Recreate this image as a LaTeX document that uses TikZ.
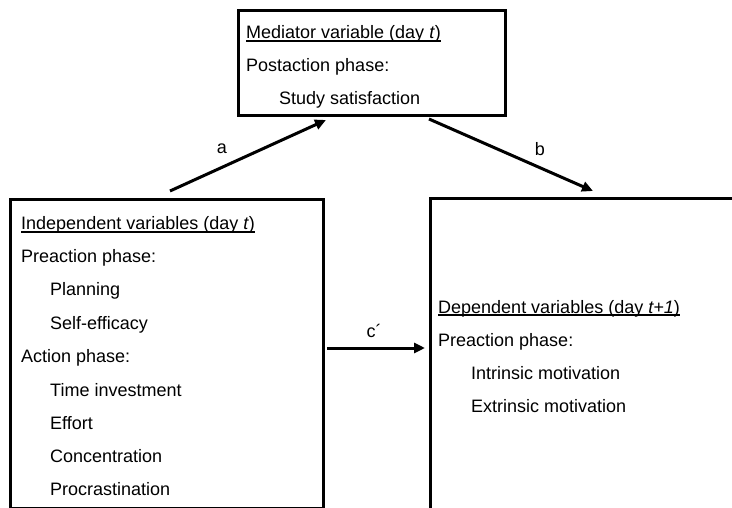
\documentclass[tikz,border=0pt]{standalone}
\usepackage{fontspec}
\setmainfont{Liberation Sans}
\usetikzlibrary{arrows.meta}
\newcommand\myul[1]{\setbox0\hbox{#1}\rlap{\rule[-2.6pt]{\wd0}{1.1pt}}\box0}
\tikzset{
  box/.style={draw, line width=3pt, anchor=north west, inner sep=0pt},
  txt/.style={anchor=base west, inner sep=0pt, font=\fontsize{18pt}{20pt}\selectfont},
  lbl/.style={inner sep=0pt, font=\fontsize{18pt}{20pt}\selectfont},
  conn/.style={line width=3pt, -{Triangle[length=11pt,width=10pt]}}
}
\begin{document}
\begin{tikzpicture}[x=1pt,y=-1pt]
\useasboundingbox (0,0) rectangle (732,508);
\clip (0,0) rectangle (732,508);
% boxes
\node[box, minimum width=267pt, minimum height=105pt] (med) at (237,9) {};
\node[box, minimum width=313pt, minimum height=309pt] (ind) at (9,198) {};
\node[box, minimum width=330pt, minimum height=330pt] (dep) at (429,197) {};
% mediator texts
\node[txt] (m1) at (246,39) {\myul{Mediator variable (day \textit{t})}};
\node[txt] (m2) at (246,72) {Postaction phase:};
\node[txt] (m3) at (279,105) {Study satisfaction};
% independent texts
\node[txt] (i1) at (21,230) {\myul{Independent variables (day \textit{t})}};
\node[txt] (i2) at (21,263) {Preaction phase:};
\node[txt] (i3) at (50,296) {Planning};
\node[txt] (i4) at (50,329) {Self-efficacy};
\node[txt] (i5) at (21,362) {Action phase:};
\node[txt] (i6) at (50,396) {Time investment};
\node[txt] (i7) at (50,429) {Effort};
\node[txt] (i8) at (50,462) {Concentration};
\node[txt] (i9) at (50,495) {Procrastination};
% dependent texts
\node[txt] (d1) at (438,313) {\myul{Dependent variables (day \textit{t+1})}};
\node[txt] (d2) at (438,346) {Preaction phase:};
\node[txt] (d3) at (471,379) {Intrinsic motivation};
\node[txt] (d4) at (471,412) {Extrinsic motivation};
% connector end points
\coordinate (aS) at (170,191);
\coordinate (aE) at (326,120);
\coordinate (bS) at (429,119);
\coordinate (bE) at (593,191);
\coordinate (cS) at (327,348);
\coordinate (cE) at (425,348);
\draw[conn] (aS) -- (aE);
\draw[conn] (bS) -- (bE);
\draw[conn] (cS) -- (cE);
\node[lbl] (la) at (222,149) {a};
\node[lbl] (lb) at (540,149) {b};
\node[lbl] (lc) at (374,331) {c´};
\end{tikzpicture}
\end{document}
